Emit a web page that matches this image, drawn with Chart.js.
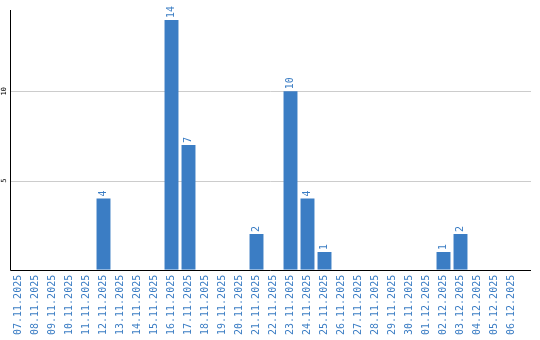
<!DOCTYPE html>
<html>
<head>
<meta charset="utf-8">
<script src="https://cdn.jsdelivr.net/npm/chart.js@4/dist/chart.umd.min.js"></script>
<style>
  html, body { margin: 0; padding: 0; background: #fff; }
  #wrap { width: 540px; height: 340px; }
</style>
</head>
<body>
<div id="wrap"><canvas id="barChart" width="540" height="340"></canvas></div>
<script>
  // data
  const days = [
    '07.11.2025', '08.11.2025', '09.11.2025', '10.11.2025', '11.11.2025',
    '12.11.2025', '13.11.2025', '14.11.2025', '15.11.2025', '16.11.2025',
    '17.11.2025', '18.11.2025', '19.11.2025', '20.11.2025', '21.11.2025',
    '22.11.2025', '23.11.2025', '24.11.2025', '25.11.2025', '26.11.2025',
    '27.11.2025', '28.11.2025', '29.11.2025', '30.11.2025', '01.12.2025',
    '02.12.2025', '03.12.2025', '04.12.2025', '05.12.2025', '06.12.2025'
  ];
  const counts = [
    0, 0, 0, 0, 0,
    4, 0, 0, 0, 14,
    7, 0, 0, 0, 2,
    0, 10, 4, 1, 0,
    0, 0, 0, 0, 0,
    1, 2, 0, 0, 0
  ];
  const yTicks = [5, 10];

  const blue = '#3b7dc4';
  const mono = "'DejaVu Sans Mono', monospace";

  // value labels above bars, rotated
  const valueLabels = {
    id: 'valueLabels',
    afterDatasetsDraw(chart) {
      const ctx = chart.ctx;
      const meta = chart.getDatasetMeta(0);
      ctx.save();
      ctx.fillStyle = blue;
      ctx.font = '10px ' + mono;
      ctx.textAlign = 'left';
      ctx.textBaseline = 'middle';
      meta.data.forEach((bar, i) => {
        if (!counts[i]) return;
        ctx.save();
        ctx.translate(bar.x, bar.y - 2);
        ctx.rotate(-Math.PI / 2);
        ctx.fillText(String(counts[i]), 0, 0);
        ctx.restore();
      });
      ctx.restore();
    }
  };

  // grid + axes drawn by hand so they run a bit past the last category
  const axisLines = {
    id: 'axisLines',
    beforeDatasetsDraw(chart) {
      const ctx = chart.ctx;
      const area = chart.chartArea;
      const y = chart.scales.y;
      const left = Math.round(area.left) + 0.5;
      const right = area.right + 11;
      ctx.save();
      ctx.lineWidth = 1;
      ctx.strokeStyle = '#cccccc';
      yTicks.forEach(v => {
        const py = Math.round(y.getPixelForValue(v)) + 0.5;
        ctx.beginPath();
        ctx.moveTo(left, py);
        ctx.lineTo(right, py);
        ctx.stroke();
      });
      ctx.restore();
    },
    afterDatasetsDraw(chart) {
      const ctx = chart.ctx;
      const area = chart.chartArea;
      const left = Math.round(area.left) + 0.5;
      const bottom = Math.round(area.bottom) + 0.5;
      ctx.save();
      ctx.lineWidth = 1;
      ctx.strokeStyle = '#000';
      ctx.beginPath();
      ctx.moveTo(left, Math.round(area.top));
      ctx.lineTo(left, bottom);
      ctx.lineTo(area.right + 11, bottom);
      ctx.stroke();
      ctx.fillStyle = '#000';
      ctx.font = '7px ' + mono;
      ctx.textAlign = 'center';
      ctx.textBaseline = 'middle';
      yTicks.forEach(v => {
        ctx.save();
        ctx.translate(area.left - 6, chart.scales.y.getPixelForValue(v));
        ctx.rotate(-Math.PI / 2);
        ctx.fillText(String(v), 0, 0);
        ctx.restore();
      });
      ctx.restore();
    }
  };

  const barChart = new Chart(document.getElementById('barChart'), {
    type: 'bar',
    data: {
      labels: days,
      datasets: [{
        data: counts,
        backgroundColor: blue,
        barPercentage: 0.82,
        categoryPercentage: 1
      }]
    },
    options: {
      responsive: false,
      animation: false,
      layout: { padding: { top: 10, left: 10, right: 20, bottom: 0 } },
      plugins: { legend: { display: false }, tooltip: { enabled: false } },
      scales: {
        x: {
          grid: { display: false, drawTicks: false },
          border: { display: false },
          ticks: {
            autoSkip: false,
            minRotation: 90,
            maxRotation: 90,
            padding: 5,
            color: blue,
            font: { family: mono, size: 10 }
          }
        },
        y: {
          min: 0,
          max: 14.56,
          afterFit(scale) { scale.width = 0; },
          grid: { display: false, drawTicks: false },
          border: { display: false },
          ticks: { display: false }
        }
      }
    },
    plugins: [valueLabels, axisLines]
  });
</script>
</body>
</html>
